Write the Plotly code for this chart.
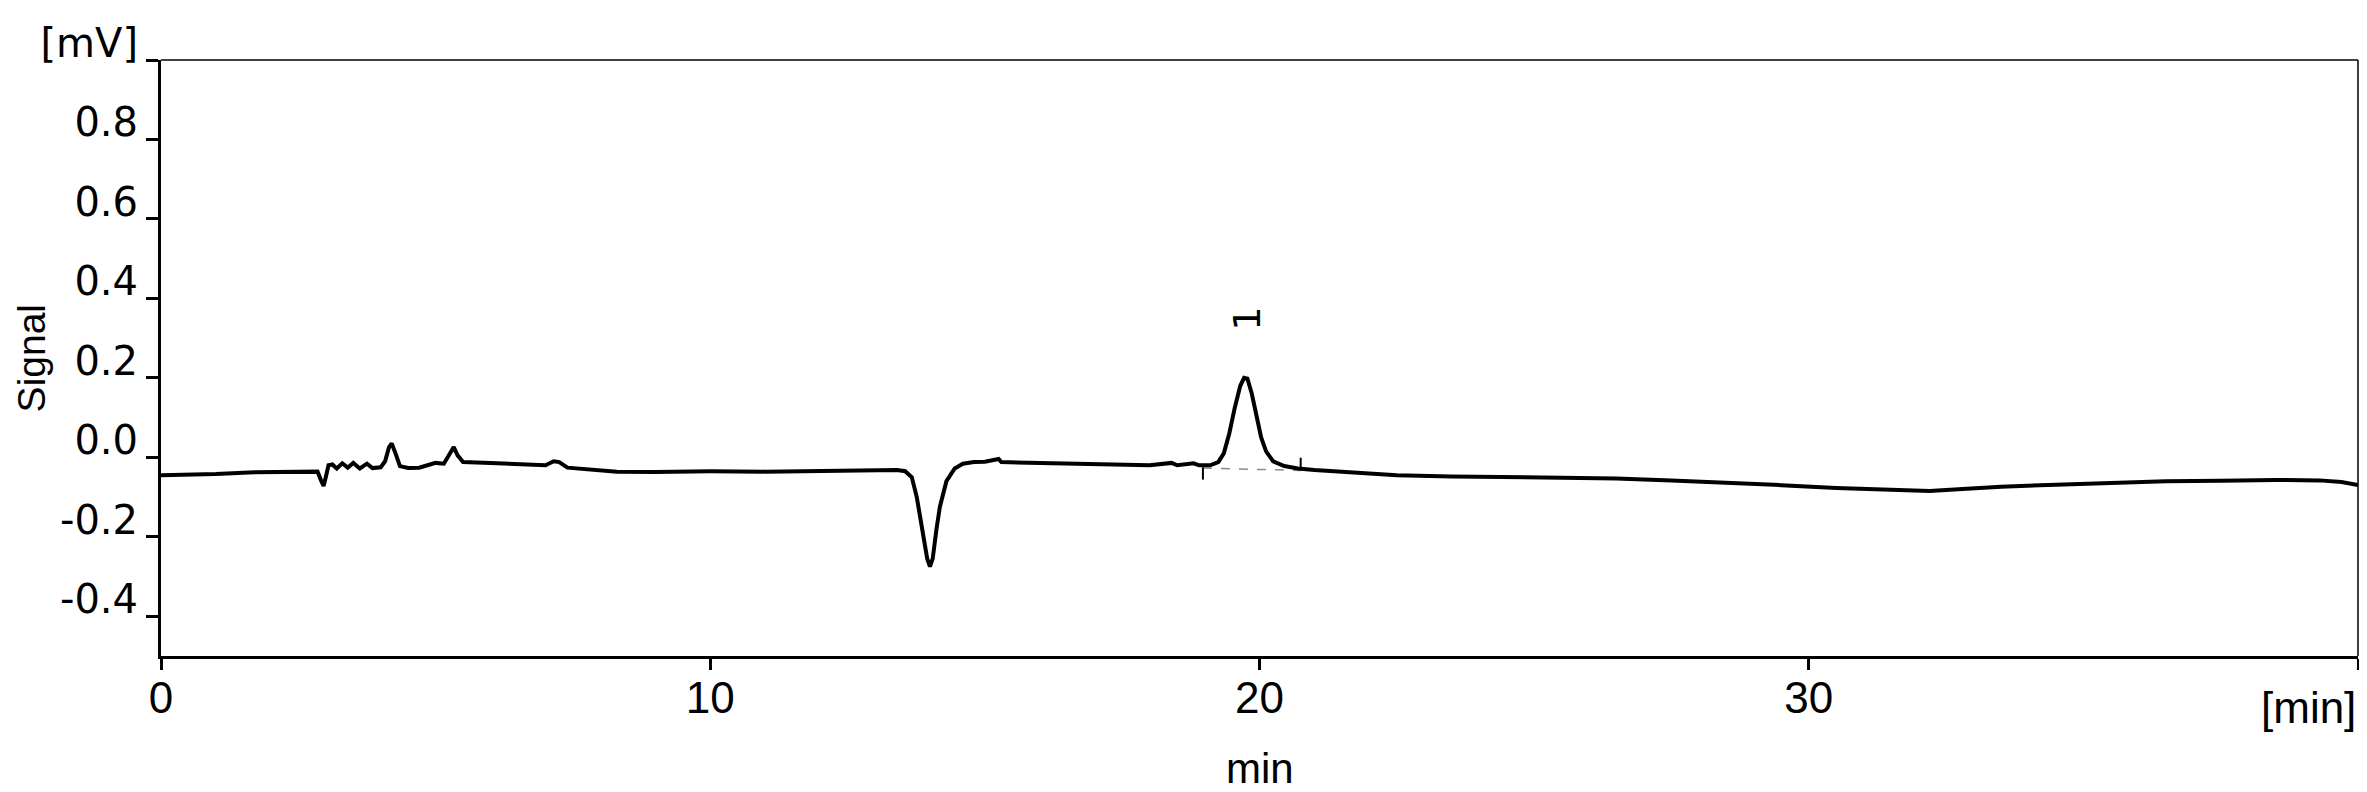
import plotly.graph_objects as go

# Chromatogram trace: retention time [min] and signal [mV]
time_min = [
    0.0, 0.5, 1.0, 1.6, 2.2, 2.7, 2.85, 2.92, 2.96, 3.0, 3.05, 3.12, 3.2, 3.3, 3.4, 3.5,
    3.62, 3.75, 3.85, 4.0, 4.08, 4.15, 4.2, 4.27, 4.35, 4.5, 4.7, 4.85, 5.0, 5.15, 5.27,
    5.33, 5.4, 5.5, 6.0, 6.5, 7.0, 7.15, 7.25, 7.4, 7.8, 8.3, 9.0, 10.0, 11.0, 12.0, 12.8,
    13.4, 13.55, 13.67, 13.76, 13.88, 13.95, 14.0, 14.05, 14.12, 14.18, 14.3, 14.45, 14.6,
    14.8, 15.0, 15.25, 15.3, 15.6, 16.0, 16.5, 17.0, 17.5, 18.0, 18.4, 18.5, 18.8, 18.9,
    19.1, 19.25, 19.35, 19.45, 19.55, 19.65, 19.72, 19.78, 19.86, 19.95, 20.03, 20.12,
    20.25, 20.45, 20.7, 21.0, 21.6, 22.5, 23.5, 24.5, 25.5, 26.5, 27.5, 28.5, 29.5, 30.5,
    31.5, 32.2, 32.8, 33.5, 34.5, 35.5, 36.5, 37.5, 38.5, 39.3, 39.7, 40.0,
]
signal_mv = [
    -0.045, -0.044, -0.042, -0.038, -0.036, -0.035, -0.036, -0.060, -0.072, -0.050, -0.020,
    -0.018, -0.028, -0.015, -0.026, -0.014, -0.028, -0.016, -0.027, -0.025, -0.010, 0.025,
    0.035, 0.010, -0.022, -0.027, -0.026, -0.020, -0.014, -0.016, 0.015, 0.026, 0.005,
    -0.012, -0.014, -0.016, -0.020, -0.010, -0.012, -0.026, -0.030, -0.036, -0.037, -0.035,
    -0.036, -0.034, -0.034, -0.032, -0.035, -0.050, -0.100, -0.200, -0.255, -0.275, -0.255,
    -0.180, -0.125, -0.060, -0.028, -0.016, -0.012, -0.011, -0.004, -0.012, -0.013, -0.013,
    -0.015, -0.017, -0.018, -0.020, -0.014, -0.020, -0.015, -0.020, -0.020, -0.012, 0.010,
    0.060, 0.125, 0.180, 0.200, 0.198, 0.160, 0.100, 0.050, 0.015, -0.010, -0.022, -0.028,
    -0.032, -0.037, -0.045, -0.048, -0.050, -0.050, -0.053, -0.058, -0.063, -0.070, -0.077,
    -0.082, -0.085, -0.080, -0.074, -0.069, -0.064, -0.060, -0.059, -0.057, -0.058, -0.062,
    -0.070,
]

# Integrated peak: label, start/end markers and baseline
peak_labels = ["1"]
peak_label_time = [19.78]
peak_label_signal = [0.35]
baseline_time = [18.97, 20.75]
baseline_signal = [-0.027, -0.033]
start_marker_signal = [-0.025, -0.056]
end_marker_signal = [-0.001, -0.033]

# Axis ticks and titles
x_tickvals = [0, 10, 20, 30, 40]
x_ticktext = ["0", "10", "20", "30", ""]
y_tickvals = [-0.4, -0.2, 0.0, 0.2, 0.4, 0.6, 0.8, 1.0]
y_ticktext = ["-0.4", "-0.2", "0.0", "0.2", "0.4", "0.6", "0.8", "[mV]"]
x_title = "min"
x_unit = "[min]"
y_title = "Signal"

SANS = "Liberation Sans, Arial, sans-serif"

fig = go.Figure()

fig.add_trace(go.Scatter(
    x=baseline_time, y=baseline_signal, mode="lines",
    line=dict(color="#8a8a8a", width=1.5, dash="dash"), hoverinfo="skip", showlegend=False,
))
fig.add_trace(go.Scatter(
    x=time_min, y=signal_mv, mode="lines",
    line=dict(color="black", width=4), showlegend=False,
))
fig.add_trace(go.Scatter(
    x=[baseline_time[0], baseline_time[0]], y=start_marker_signal, mode="lines",
    line=dict(color="black", width=2), hoverinfo="skip", showlegend=False,
))
fig.add_trace(go.Scatter(
    x=[baseline_time[1], baseline_time[1]], y=end_marker_signal, mode="lines",
    line=dict(color="black", width=2), hoverinfo="skip", showlegend=False,
))

for lab, t, v in zip(peak_labels, peak_label_time, peak_label_signal):
    fig.add_annotation(x=t, y=v, xref="x", yref="y", text=lab, showarrow=False,
                       textangle=-90, font=dict(family="DejaVu Sans", size=38, color="black"))

fig.add_annotation(x=40, y=-0.087, xref="x", yref="paper", text=x_unit, showarrow=False,
                   xanchor="right", yanchor="middle",
                   font=dict(family=SANS, size=44, color="black"))
fig.add_annotation(x=0.5, y=-0.188, xref="paper", yref="paper", text=x_title, showarrow=False,
                   xanchor="center", yanchor="middle",
                   font=dict(family=SANS, size=42, color="black"))
fig.add_annotation(x=-0.059, y=0.5, xref="paper", yref="paper", text=y_title, showarrow=False,
                   xanchor="center", yanchor="middle", textangle=-90,
                   font=dict(family=SANS, size=39, color="black"))

# thin top/right frame
fig.add_shape(type="line", xref="paper", yref="paper", x0=0, x1=1, y0=1, y1=1,
              line=dict(color="black", width=1.5))
fig.add_shape(type="line", xref="paper", yref="paper", x0=1, x1=1, y0=0, y1=1,
              line=dict(color="black", width=1.5))

# the page body adds an 8px margin, so the figure is 8px smaller and margins shifted
fig.update_layout(
    width=2359, height=784,
    margin=dict(l=153, r=9, t=52, b=136, autoexpand=False),
    paper_bgcolor="white", plot_bgcolor="white",
    xaxis=dict(
        range=[0, 40], tickmode="array", tickvals=x_tickvals, ticktext=x_ticktext,
        ticks="outside", ticklen=11, tickwidth=3, tickcolor="black", automargin=False,
        showline=True, linewidth=3, linecolor="black", showgrid=False, zeroline=False,
        ticklabelstandoff=-10,
        tickfont=dict(family=SANS, size=44, color="black"),
    ),
    yaxis=dict(
        range=[-0.5, 1.0], tickmode="array", tickvals=y_tickvals, ticktext=y_ticktext,
        ticks="outside", ticklen=12, tickwidth=3, tickcolor="black", automargin=False,
        showline=True, linewidth=3, linecolor="black", showgrid=False, zeroline=False,
        ticklabelshift=-17, ticklabelstandoff=0,
        tickfont=dict(family="DejaVu Sans", size=40, color="black"),
    ),
)

fig.write_html("out.html")
